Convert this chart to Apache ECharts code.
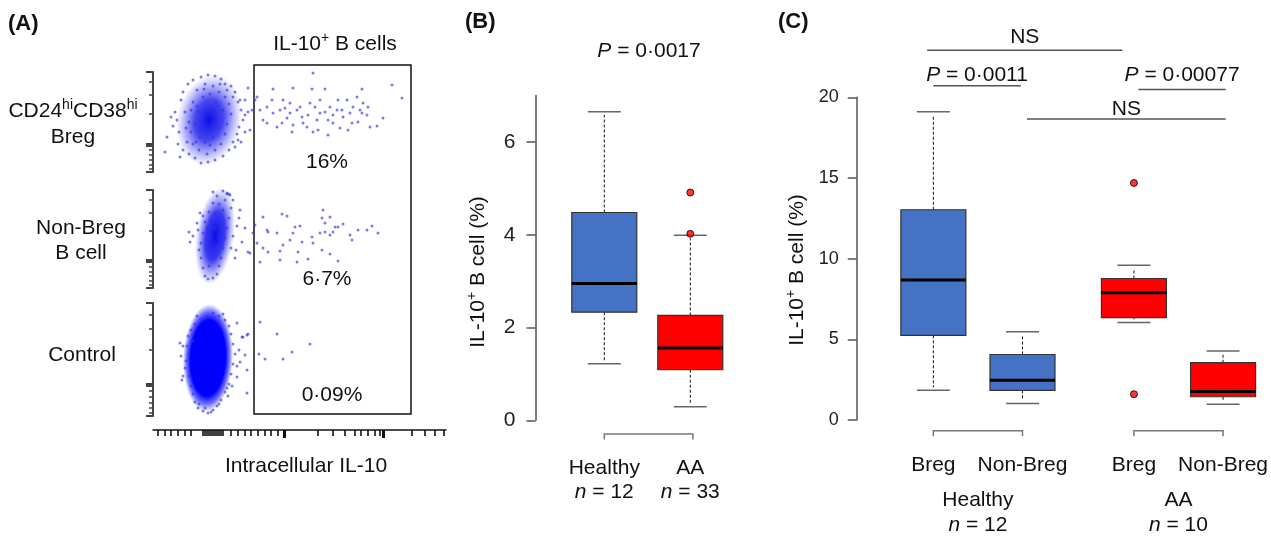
<!DOCTYPE html>
<html>
<head>
<meta charset="utf-8">
<script src="https://cdn.jsdelivr.net/npm/echarts@6/dist/echarts.min.js"></script>
<style>
html, body { margin: 0; padding: 0; background: #fff; }
#chart { width: 1271px; height: 538px; }
</style>
</head>
<body>
<div id="chart"></div>
<script>
// ---------- data ----------
// (A) flow cytometry, arbitrary channel units (x: IL-10, y: per-row channel)
var flowRows = ['CD24{s|hi}CD38{s|hi}\nBreg', 'Non-Breg\nB cell', 'Control'];
var flowPct = ['16%', '6·7%', '0·09%'];
var gateX = [101, 258];

var bregCore = [[56, 52]];
var bregDots = [
  [160,99],[120,83],[140,84],[159,83],[172,83],[209,83],[239,87],[249,74],[104,75],[107,62],
  [114,65],[120,59],[127,62],[132,64],[134,54],[137,59],[140,47],[144,62],[147,65],[149,55],
  [150,49],[155,57],[157,69],[162,65],[164,52],[167,59],[172,60],[175,52],[177,65],[180,57],
  [184,62],[187,44],[189,62],[190,55],[195,42],[197,59],[200,65],[205,50],[207,62],[209,59],
  [210,69],[214,57],[217,45],[224,46],[230,54],[204,75],[130,72],[102,72],[114,49],[124,45],
  [139,40],[160,40],[175,37],[180,49],[167,72],[194,72],[215,65],[110,52],[119,72],[129,49],
  [137,69],[154,45],[165,42],[185,72],[199,49],
  [92,57],[87,72],[97,42],[95,84],[85,32],[99,62],
  [14,35],[20,46],[12,20],[25,28],[22,60],[28,72],[30,80],[35,88],[40,92],[48,95],
  [55,97],[62,96],[68,93],[72,88],[78,86],[82,80],[85,70],[88,62],[90,52],[86,45],
  [84,38],[80,30],[76,22],[70,16],[62,12],[55,10],[48,9],[42,14],[36,18],[30,22],
  [26,40],[24,52],[32,60],[34,30],[38,40],[40,70],[44,82],[52,88],[60,86],[66,80],
  [72,75],[76,68],[78,58],[74,48],[72,38],[68,28],[62,22],[54,18],[46,22],[40,28],
  [36,50],[33,44],[45,60],[50,75],[58,65],[64,55],[70,62],[42,48],[47,35],[60,35],
  [66,45],[52,30],[57,78],[63,70],[49,55],[55,42],[61,60],[38,62],[74,82],[80,75],
  [92,72],[95,60],[18,55],[27,15],[82,25],[88,30],[92,40],
  [44,66],[48,40],[53,62],[59,47],[65,66],[43,30],[57,27],[69,52],[51,83],[67,88]
];

var nonBregCore = [[62, 52]];
var nonBregDots = [
  [110,71],[129,74],[134,72],[170,78],[169,70],[177,71],[172,65],[182,61],[190,64],[102,63],
  [114,58],[115,56],[124,55],[142,61],[147,62],[140,55],[137,48],[149,46],[159,51],[167,55],
  [172,56],[177,53],[180,56],[185,61],[197,53],[199,48],[205,58],[214,58],[219,62],[225,55],
  [160,45],[145,36],[127,37],[115,36],[110,40],[97,35],[104,45],[107,26],[127,28],[144,26],
  [155,29],[169,38],[177,34],[185,27],[130,43],[100,55],
  [87,78],[92,60],[83,38],[95,36],[89,46],[47,75],[37,46],[60,96],[74,95],[77,93],
  [48,30],[50,20],[52,12],[55,9],[60,10],[64,14],[66,22],[68,30],[70,40],[72,50],
  [74,60],[76,70],[78,80],[80,88],[76,94],[70,97],[64,92],[60,85],[56,76],[52,66],
  [50,55],[48,45],[46,38],[54,40],[58,50],[62,60],[66,70],[70,78],[60,30],[64,42],
  [56,22],[68,58],[62,75],[72,88],[74,94],[54,60],[58,68],[66,84],[50,72],[45,58],
  [44,65],[80,52],[84,62],[78,40],[82,30],[40,52],[36,56],[86,70],[60,40],[66,50]
];

var controlCore = [[55, 58]];
var controlDots = [
  [107,94],[124,82],[157,72],[139,64],[130,57],[112,57],[106,62],[94,23],[94,46],[92,61],
  [87,54],[84,39],[95,82],[89,79],[94,81],[84,93],[90,79],[27,73],[29,36],
  [28,60],[32,48],[30,70],[35,80],[36,40],[38,30],[40,22],[42,14],[45,8],[50,5],
  [55,3],[60,6],[64,10],[68,16],[72,24],[76,32],[78,42],[80,52],[82,62],[80,72],
  [78,82],[76,90],[72,96],[66,100],[60,103],[54,100],[48,97],[42,92],[38,86],[34,70],
  [33,55],[84,50],[86,66],[30,40],[44,100],[70,102],[62,98],[36,62],[40,75],[79,30],
  [75,20],[46,12],[52,8],[58,4],[66,12],[74,28]
];

var flowXMajor = [131.3, 230.3];
var flowXMinor = [4.7, 11.3, 18, 24.7, 31.3, 38, 50, 52, 54, 56, 58, 60, 62, 64, 66, 68, 70,
  78, 84.7, 91.3, 98, 104.7, 111.3, 118, 124.7, 164.7, 179.7, 191.3, 201.3, 208, 214.7,
  221.3, 227, 258.7, 272, 282, 290.3];
var flowYMajorFrac = [0, 0.265, 0.287, 1];
var flowYMinorFrac = [0.03, 0.07, 0.12, 0.17, 0.22, 0.587, 0.77, 0.9];

// (B) IL-10+ B cell (%) by group
var bGroups = ['Healthy', 'AA'];
var bN = [12, 33];
var bPos = [1, 2];
// [lower whisker, Q1, median, Q3, upper whisker]
var bStats = [[1.22, 2.33, 2.95, 4.48, 6.65], [0.29, 1.09, 1.56, 2.26, 3.99]];
var bOutliers = [[2, 4.02], [2, 4.91]];
var bTicks = [0, 2, 4, 6];
var bP = '0·0017';

// (C) Breg vs non-Breg within groups
var cSubsets = ['Breg', 'Non-Breg', 'Breg', 'Non-Breg'];
var cPos = [1, 2, 3.25, 4.25];
var cStats = [
  [1.84, 5.25, 8.67, 13.03, 19.1],
  [1.03, 1.84, 2.46, 4.06, 5.47],
  [6.05, 6.35, 7.89, 8.77, 9.59],
  [0.97, 1.44, 1.76, 3.55, 4.27]
];
var cOutliers = [[3.25, 14.69], [3.25, 1.6]];
var cGroups = ['Healthy', 'AA'];
var cN = [12, 10];
var cGroupPos = [1.5, 3.75];
var cTicks = [0, 5, 10, 15, 20];
// [x from, x to, line y, label y]
var cSig = [[0.93, 3.12, 22.91, 23.71], [1.0, 1.98, 20.71, 21.4], [3.3, 4.28, 20.49, 21.4], [2.05, 4.28, 18.65, 19.25]];
var cSigLabels = ['NS', '{i|P} = 0·0011', '{i|P} = 0·00077', 'NS'];

// ---------- chart ----------
var FONT = 'Liberation Sans, Arial, sans-serif';
var BLUE = '#4472C4', RED = '#FF0000';
var myChart = echarts.init(document.getElementById('chart'));

// core blob: [width px, height px, rotation rad, gradient stops]
var flowPanels = [
  {top: 72, height: 100, core: bregCore, dots: bregDots, blob: [64, 92, -0.2,
    [[0, 'rgba(0,0,235,0.95)'], [0.45, 'rgba(10,10,235,0.75)'], [0.75, 'rgba(40,40,235,0.35)'], [1, 'rgba(60,60,235,0)']]]},
  {top: 190, height: 98, core: nonBregCore, dots: nonBregDots, blob: [38, 98, -0.14,
    [[0, 'rgba(0,0,235,0.95)'], [0.5, 'rgba(10,10,235,0.8)'], [0.78, 'rgba(40,40,235,0.35)'], [1, 'rgba(60,60,235,0)']]]},
  {top: 303, height: 113, core: controlCore, dots: controlDots, blob: [50, 108, -0.04,
    [[0, 'rgba(0,0,255,1)'], [0.7, 'rgba(0,0,255,1)'], [0.86, 'rgba(20,20,250,0.6)'], [1, 'rgba(40,40,245,0)']]]}
];

var grids = [], xAxes = [], yAxes = [], series = [];
var hidden = {show: false};

function blobRenderer(blob) {
  return function (params, api) {
    var c = api.coord([api.value(0), api.value(1)]);
    return {
      type: 'circle', x: c[0], y: c[1], rotation: blob[2], scaleX: 1, scaleY: blob[1] / blob[0],
      shape: {cx: 0, cy: 0, r: blob[0] / 2},
      style: {fill: new echarts.graphic.RadialGradient(0.5, 0.5, 0.5, blob[3].map(function (s) {
        return {offset: s[0], color: s[1]};
      }))}
    };
  };
}

flowPanels.forEach(function (p, i) {
  grids.push({left: 153, top: p.top, width: 293, height: p.height});
  xAxes.push({type: 'value', gridIndex: i, min: 0, max: 293, show: false});
  var major = flowYMajorFrac.map(function (f) { return f * p.height; });
  var minor = flowYMinorFrac.map(function (f) { return f * p.height; });
  yAxes.push({
    type: 'value', gridIndex: i, min: 0, max: p.height, position: 'left',
    axisLine: {show: true, onZero: false, lineStyle: {color: '#444', width: 2}},
    axisTick: {show: true, customValues: major, length: 7, lineStyle: {color: '#444', width: 2}},
    axisLabel: hidden, splitLine: hidden
  });
  yAxes.push({
    type: 'value', gridIndex: i, min: 0, max: p.height, position: 'left',
    axisLine: {show: false, onZero: false},
    axisTick: {show: true, customValues: minor, length: 4, lineStyle: {color: '#444', width: 1.5}},
    axisLabel: hidden, splitLine: hidden
  });
  series.push({
    type: 'custom', xAxisIndex: i, yAxisIndex: 2 * i, silent: true,
    data: p.core, renderItem: blobRenderer(p.blob)
  });
  series.push({
    type: 'scatter', xAxisIndex: i, yAxisIndex: 2 * i, silent: true,
    data: p.dots, symbolSize: 3,
    itemStyle: {color: 'rgba(50,50,232,0.8)'}
  });
});

// gate grid + IL-10 axis
grids.push({left: 153, top: 65, width: 293, height: 349});
xAxes.push({
  type: 'value', gridIndex: 3, min: 0, max: 293, offset: 16, position: 'bottom',
  axisLine: {show: true, onZero: false, lineStyle: {color: '#111', width: 1.5}},
  axisTick: {show: true, customValues: flowXMajor, length: 8, lineStyle: {color: '#111', width: 3}},
  axisLabel: hidden, splitLine: hidden
});
xAxes.push({
  type: 'value', gridIndex: 3, min: 0, max: 293, offset: 16, position: 'bottom',
  axisLine: {show: false, onZero: false},
  axisTick: {show: true, customValues: flowXMinor, length: 6, lineStyle: {color: '#111', width: 1.6}},
  axisLabel: hidden, splitLine: hidden
});
yAxes.push({type: 'value', gridIndex: 3, min: 0, max: 1, show: false});
series.push({
  type: 'custom', xAxisIndex: 3, yAxisIndex: 6, silent: true,
  data: [gateX],
  renderItem: function (params, api) {
    var a = api.coord([api.value(0), 1]);
    var b = api.coord([api.value(1), 0]);
    return {type: 'rect', shape: {x: a[0], y: a[1], width: b[0] - a[0], height: b[1] - a[1]},
      style: {fill: 'none', stroke: '#111', lineWidth: 1.5}};
  }
});

function boxRenderer(params, api) {
  var p = api.value(0);
  var lo = api.coord([p, api.value(1)]);
  var q1 = api.coord([p, api.value(2)]);
  var md = api.coord([p, api.value(3)]);
  var q3 = api.coord([p, api.value(4)]);
  var hi = api.coord([p, api.value(5)]);
  var x = md[0], hw = 32.5, cw = 16.5;
  var dash = {stroke: '#111', lineWidth: 1, lineDash: [3, 2]};
  var cap = {stroke: '#666', lineWidth: 1.5};
  return {
    type: 'group',
    children: [
      {type: 'line', shape: {x1: x, y1: q3[1], x2: x, y2: hi[1] + 3}, style: dash},
      {type: 'line', shape: {x1: x, y1: q1[1], x2: x, y2: lo[1] - 3}, style: dash},
      {type: 'line', shape: {x1: x - cw, y1: hi[1], x2: x + cw, y2: hi[1]}, style: cap},
      {type: 'line', shape: {x1: x - cw, y1: lo[1], x2: x + cw, y2: lo[1]}, style: cap},
      {type: 'rect', shape: {x: x - hw, y: q3[1], width: 2 * hw, height: q1[1] - q3[1]},
        style: {fill: api.visual('color'), stroke: '#333', lineWidth: 1.2}},
      {type: 'line', shape: {x1: x - hw, y1: md[1], x2: x + hw, y2: md[1]}, style: {stroke: '#000', lineWidth: 3}}
    ]
  };
}

function bracketRenderer(off) {
  return function (params, api) {
    var a = api.coord([api.value(0), 0]);
    var b = api.coord([api.value(1), 0]);
    var y = a[1] + off;
    return {type: 'polyline', shape: {points: [[a[0], y + 5.5], [a[0], y], [b[0], y], [b[0], y + 5.5]]},
      style: {fill: 'none', stroke: '#777', lineWidth: 1.5}};
  };
}

function boxData(pos, stats) {
  return stats.map(function (s, i) { return [pos[i]].concat(s); });
}

var labelRich = {i: {fontStyle: 'italic', fontSize: 21, fontFamily: FONT, color: '#111', lineHeight: 24}};

// (B) grid
grids.push({left: 535.5, top: 95.6, width: 223.6, height: 324.7});
xAxes.push({
  type: 'value', gridIndex: 4, min: 0.2, max: 2.8,
  axisLine: {show: false, onZero: false}, axisTick: hidden, splitLine: hidden,
  axisLabel: {show: true, customValues: bPos, margin: 36, fontSize: 21, fontFamily: FONT, color: '#111',
    lineHeight: 24, rich: labelRich,
    formatter: function (v) { var i = bPos.indexOf(v); return bGroups[i] + '\n{i|n} = ' + bN[i]; }}
});
yAxes.push({
  type: 'value', gridIndex: 4, min: 0, max: 7,
  axisLine: {show: true, onZero: false, lineStyle: {color: '#555', width: 1.5}},
  axisTick: {show: true, customValues: bTicks, length: 9, lineStyle: {color: '#555', width: 1.5}},
  axisLabel: {show: true, customValues: bTicks, margin: 20, fontSize: 21, fontFamily: FONT, color: '#222'},
  splitLine: hidden
});
series.push({type: 'custom', name: 'Healthy', xAxisIndex: 5, yAxisIndex: 7, silent: true,
  itemStyle: {color: BLUE}, data: boxData(bPos.slice(0, 1), bStats.slice(0, 1)), renderItem: boxRenderer});
series.push({type: 'custom', name: 'AA', xAxisIndex: 5, yAxisIndex: 7, silent: true,
  itemStyle: {color: RED}, data: boxData(bPos.slice(1), bStats.slice(1)), renderItem: boxRenderer});
series.push({type: 'scatter', xAxisIndex: 5, yAxisIndex: 7, silent: true, data: bOutliers, symbolSize: 7,
  itemStyle: {color: RED, borderColor: '#000', borderWidth: 1}});
series.push({type: 'custom', xAxisIndex: 5, yAxisIndex: 7, silent: true, data: [[1, 2.03]],
  renderItem: bracketRenderer(13.7)});

// (C) grid
grids.push({left: 856.7, top: 97.3, width: 402.3, height: 325.4});
xAxes.push({
  type: 'value', gridIndex: 5, min: 0.14, max: 4.65,
  axisLine: {show: false, onZero: false}, axisTick: hidden, splitLine: hidden,
  axisLabel: {show: true, customValues: cPos, margin: 33, fontSize: 21, fontFamily: FONT, color: '#111', lineHeight: 25,
    formatter: function (v) { return cSubsets[cPos.indexOf(v)]; }}
});
xAxes.push({
  type: 'value', gridIndex: 5, min: 0.14, max: 4.65, position: 'bottom',
  axisLine: {show: false, onZero: false}, axisTick: hidden, splitLine: hidden,
  axisLabel: {show: true, customValues: cGroupPos, margin: 68, fontSize: 21, fontFamily: FONT, color: '#111',
    lineHeight: 25, rich: {i: {fontStyle: 'italic', fontSize: 21, fontFamily: FONT, color: '#111', lineHeight: 25}},
    formatter: function (v) { var i = cGroupPos.indexOf(v); return cGroups[i] + '\n{i|n} = ' + cN[i]; }}
});
yAxes.push({
  type: 'value', gridIndex: 5, min: 0, max: 20,
  axisLine: {show: true, onZero: false, lineStyle: {color: '#555', width: 1.5}},
  axisTick: {show: true, customValues: cTicks, length: 9, lineStyle: {color: '#555', width: 1.5}},
  axisLabel: {show: true, customValues: cTicks, margin: 18, fontSize: 18, fontFamily: FONT, color: '#222'},
  splitLine: hidden
});
series.push({type: 'custom', xAxisIndex: 6, yAxisIndex: 8, silent: true,
  itemStyle: {color: BLUE}, data: boxData(cPos.slice(0, 2), cStats.slice(0, 2)), renderItem: boxRenderer});
series.push({type: 'custom', xAxisIndex: 6, yAxisIndex: 8, silent: true,
  itemStyle: {color: RED}, data: boxData(cPos.slice(2), cStats.slice(2)), renderItem: boxRenderer});
series.push({type: 'scatter', xAxisIndex: 6, yAxisIndex: 8, silent: true, data: cOutliers, symbolSize: 7,
  itemStyle: {color: RED, borderColor: '#000', borderWidth: 1}});
series.push({type: 'custom', xAxisIndex: 6, yAxisIndex: 8, silent: true, data: [[1, 2], [3.25, 4.25]],
  renderItem: bracketRenderer(10.7)});
series.push({
  type: 'custom', xAxisIndex: 6, yAxisIndex: 8, silent: true, clip: false, data: cSig,
  renderItem: function (params, api) {
    var a = api.coord([api.value(0), api.value(2)]);
    var b = api.coord([api.value(1), api.value(2)]);
    var t = api.coord([(api.value(0) + api.value(1)) / 2, api.value(3)]);
    return {type: 'group', children: [
      {type: 'line', shape: {x1: a[0], y1: a[1], x2: b[0], y2: b[1]}, style: {stroke: '#555', lineWidth: 1.5}},
      {type: 'text', style: {text: cSigLabels[params.dataIndex], x: t[0], y: t[1], align: 'center', verticalAlign: 'middle',
        fontSize: 21, fontFamily: FONT, fill: '#111',
        rich: {i: {fontStyle: 'italic', fontSize: 21, fontFamily: FONT, fill: '#111'}}}}
    ]};
  }
});

// ---------- text ----------
function txt(text, x, y, opts) {
  var s = {text: text, x: 0, y: 0, fontSize: 21, fontFamily: FONT, fill: '#111',
    align: 'center', verticalAlign: 'middle', textAlign: 'center', textVerticalAlign: 'middle'};
  for (var k in (opts || {})) s[k] = opts[k];
  return {type: 'text', x: x, y: y, rotation: s.rot || 0, silent: true, style: s};
}
var supRich = {s: {fontSize: 14, fontFamily: FONT, fill: '#111', verticalAlign: 'top', lineHeight: 26}};
var graphics = [
  txt('(A)', 8, 24, {fontWeight: 'bold', fontSize: 22, align: 'left', textAlign: 'left'}),
  txt('(B)', 465, 22, {fontWeight: 'bold', fontSize: 22, align: 'left', textAlign: 'left'}),
  txt('(C)', 778, 22, {fontWeight: 'bold', fontSize: 22, align: 'left', textAlign: 'left'}),
  txt('IL-10{s|+} B cells', 335, 44, {rich: supRich}),
  txt(flowRows[0], 73, 124, {rich: supRich, lineHeight: 26}),
  txt(flowRows[1], 81, 241, {lineHeight: 25}),
  txt(flowRows[2], 82, 355),
  txt(flowPct[0], 327, 162),
  txt(flowPct[1], 327, 279),
  txt(flowPct[2], 332, 395),
  txt('Intracellular IL-10', 306, 466),
  txt('{i|P} = ' + bP, 649, 51, {rich: {i: {fontStyle: 'italic', fontSize: 21, fontFamily: FONT, fill: '#111'}}}),
  txt('IL-10{s|+} B cell (%)', 478, 272, {rot: Math.PI / 2, rich: supRich}),
  txt('IL-10{s|+} B cell (%)', 797, 270, {rot: Math.PI / 2, rich: supRich})
];

myChart.setOption({
  animation: false,
  backgroundColor: '#fff',
  grid: grids,
  xAxis: xAxes,
  yAxis: yAxes,
  series: series,
  graphic: graphics
});
</script>
</body>
</html>
